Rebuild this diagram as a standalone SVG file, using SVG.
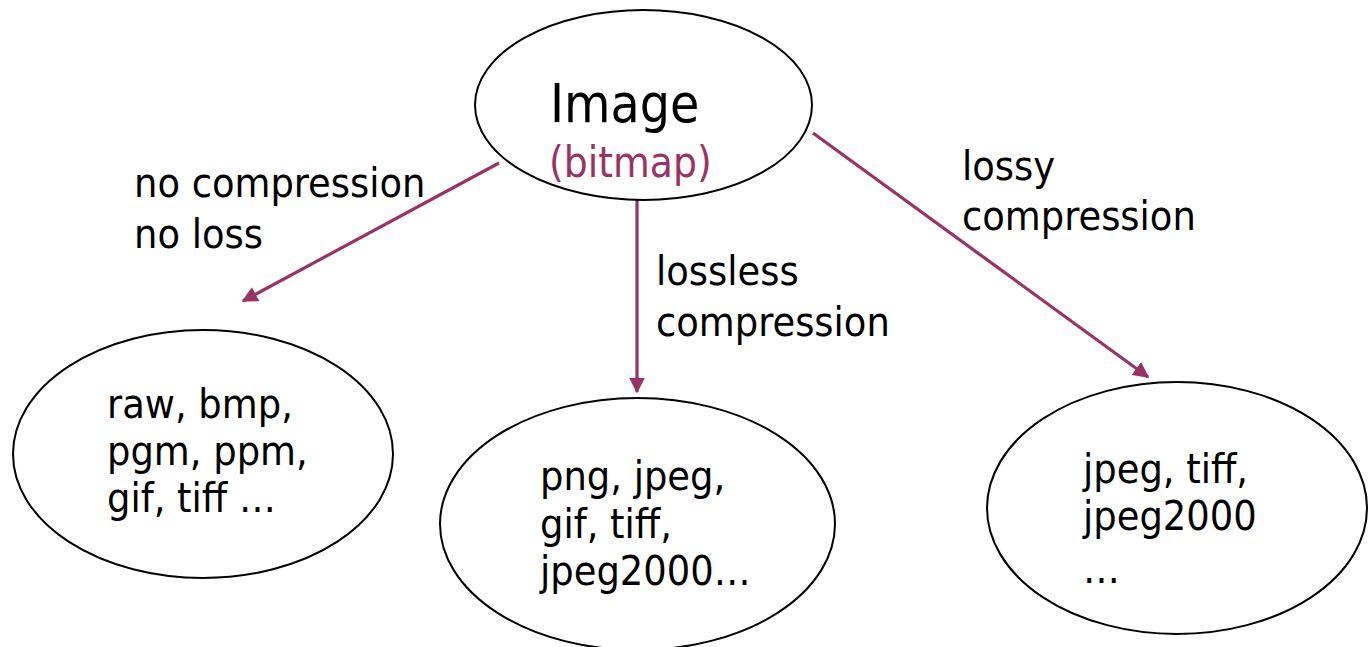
<svg xmlns="http://www.w3.org/2000/svg" width="1368" height="647" viewBox="0 0 1368 647">
<defs>
<style>
.node{fill:#fff;stroke:#000;stroke-width:2}
.t{font-family:"DejaVu Sans Condensed","DejaVu Sans",sans-serif;font-stretch:condensed;font-size:41px;fill:#000}
.sub{fill:#993366}
.edge{stroke:#993366;stroke-width:3.2;fill:none;marker-end:url(#arr)}
</style>
<marker id="arr" viewBox="0 0 10 10" refX="9" refY="5" markerWidth="5" markerHeight="5" orient="auto" markerUnits="strokeWidth">
<path d="M0,0 L10,5 L0,10 z" fill="#993366"/>
</marker>
</defs>
<rect width="1368" height="647" fill="#fff"/>
<g id="connectors">
<line class="edge" x1="499" y1="163" x2="243" y2="301"/>
<line class="edge" x1="637" y1="196" x2="637" y2="392"/>
<line class="edge" x1="813" y1="133" x2="1148" y2="377"/>
<g id="edge-labels">
<text class="t" x="134" y="197">no compression</text>
<text class="t" x="134" y="248">no loss</text>
<text class="t" x="656" y="285">lossless</text>
<text class="t" x="656" y="336">compression</text>
<text class="t" x="962" y="180">lossy</text>
<text class="t" x="962" y="230">compression</text>
</g>
</g>
<g id="image">
<ellipse class="node" cx="643.5" cy="105" rx="168.5" ry="95"/>
<text class="t" x="550" y="122" style="font-size:53px">Image</text>
<text class="t sub" x="549" y="177" style="font-size:42px">(bitmap)</text>
</g>
<g id="nocomp">
<ellipse class="node" cx="203" cy="454" rx="190" ry="124"/>
<text class="t" x="107" y="418">raw, bmp,</text>
<text class="t" x="107" y="465">pgm, ppm,</text>
<text class="t" x="107" y="512">gif, tiff …</text>
</g>
<g id="lossless">
<ellipse class="node" cx="637.5" cy="524" rx="197.5" ry="126"/>
<text class="t" x="540" y="490">png, jpeg,</text>
<text class="t" x="540" y="538">gif, tiff,</text>
<text class="t" x="540" y="585">jpeg2000…</text>
</g>
<g id="lossy">
<ellipse class="node" cx="1177" cy="508" rx="190" ry="126"/>
<text class="t" x="1083" y="483">jpeg, tiff,</text>
<text class="t" x="1083" y="530">jpeg2000</text>
<text class="t" x="1083" y="583">…</text>
</g>
</svg>
